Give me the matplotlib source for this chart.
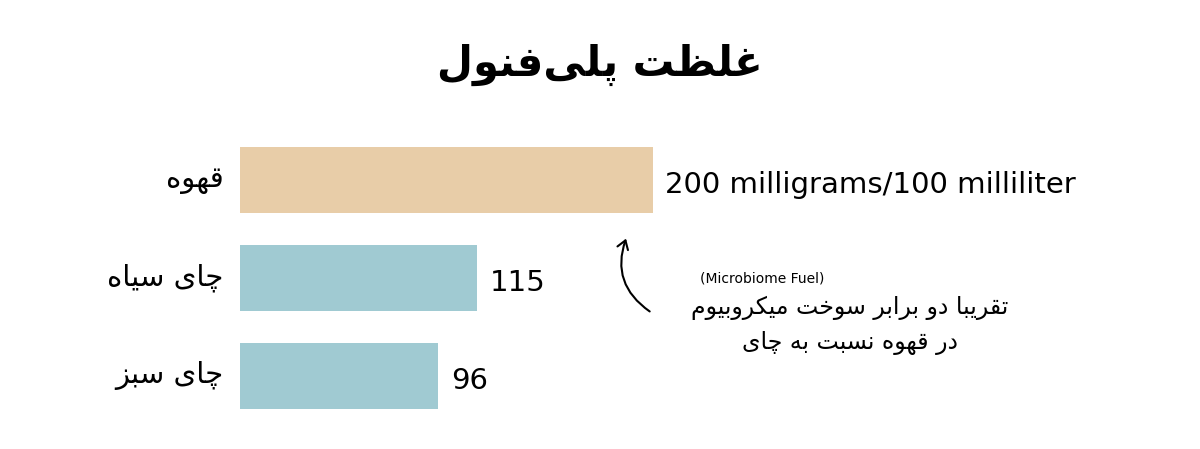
import matplotlib.pyplot as plt
from matplotlib.patches import FancyArrowPatch

# Minimal Persian shaping (matplotlib has no bidi / joining support)
FORMS = {
    'ا': (0xFE8D, 0xFE8E), 'د': (0xFEA9, 0xFEAA), 'ر': (0xFEAD, 0xFEAE),
    'ز': (0xFEAF, 0xFEB0), 'و': (0xFEED, 0xFEEE),
    'ب': (0xFE8F, 0xFE90, 0xFE91, 0xFE92), 'پ': (0xFB56, 0xFB57, 0xFB58, 0xFB59),
    'ت': (0xFE95, 0xFE96, 0xFE97, 0xFE98), 'خ': (0xFEA5, 0xFEA6, 0xFEA7, 0xFEA8),
    'چ': (0xFB7A, 0xFB7B, 0xFB7C, 0xFB7D), 'س': (0xFEB1, 0xFEB2, 0xFEB3, 0xFEB4),
    'ظ': (0xFEC5, 0xFEC6, 0xFEC7, 0xFEC8), 'غ': (0xFECD, 0xFECE, 0xFECF, 0xFED0),
    'ف': (0xFED1, 0xFED2, 0xFED3, 0xFED4), 'ق': (0xFED5, 0xFED6, 0xFED7, 0xFED8),
    'ک': (0xFB8E, 0xFB8F, 0xFB90, 0xFB91), 'ل': (0xFEDD, 0xFEDE, 0xFEDF, 0xFEE0),
    'م': (0xFEE1, 0xFEE2, 0xFEE3, 0xFEE4), 'ن': (0xFEE5, 0xFEE6, 0xFEE7, 0xFEE8),
    'ه': (0xFEE9, 0xFEEA, 0xFEEB, 0xFEEC), 'ی': (0xFBFC, 0xFBFD, 0xFBFE, 0xFBFF),
}


def fa(s):
    out = []
    for i, c in enumerate(s):
        if c not in FORMS:
            if c != '\u200c':
                out.append(c)
            continue
        prev = s[i - 1] if i > 0 else ''
        nxt = s[i + 1] if i + 1 < len(s) else ''
        jp = prev in FORMS and len(FORMS[prev]) == 4
        jn = len(FORMS[c]) == 4 and nxt in FORMS
        f = FORMS[c]
        if jp and jn:
            k = 3
        elif jp:
            k = 1
        elif jn:
            k = 2
        else:
            k = 0
        out.append(chr(f[k]))
    return ''.join(reversed(out))


title = 'غلظت پلی\u200cفنول'
categories = ['قهوه', 'چای سیاه', 'چای سبز']
values = [200, 115, 96]
value_labels = ['200 milligrams/100 milliliter', '115', '96']
colors = ['#E8CDA8', '#A0CAD2', '#A0CAD2']
note_en = '(Microbiome Fuel)'
note_fa = ['تقریبا دو برابر سوخت میکروبیوم', 'در قهوه نسبت به چای']

FAM = ['DejaVu Sans']
W, H = 1200, 449
fig = plt.figure(figsize=(12, 4.49), dpi=100)


def px(x, y):
    return x / W, 1 - y / H


ax = fig.add_axes([240 / W, 1 - 425 / H, 413 / W, 294 / H])
ypos = [0.5, 1.5, 2.5]
ax.barh(ypos, values, height=0.67, color=colors)
ax.set_xlim(0, 200)
ax.set_ylim(3, 0)
ax.axis('off')

for y, cat, v, lab in zip(ypos, categories, values, value_labels):
    ax.text(-8, y, fa(cat), ha='right', va='center', fontsize=21, family=FAM)
    ax.text(v + 6, y + 0.05, lab, ha='left', va='center', fontsize=21, family=FAM)

fig.text(*px(600, 65), fa(title), ha='center', va='center', fontsize=30,
         fontweight='bold', family=FAM)

fig.text(*px(762, 278), note_en, ha='center', va='center', fontsize=10, family=FAM)
fig.text(*px(850, 308), fa(note_fa[0]), ha='center', va='center', fontsize=17, family=FAM)
fig.text(*px(850, 343), fa(note_fa[1]), ha='center', va='center', fontsize=17, family=FAM)

arrow = FancyArrowPatch(px(652, 313), px(627, 236), transform=fig.transFigure,
                        connectionstyle='arc3,rad=-0.4', arrowstyle='->,head_length=6,head_width=4',
                        color='black', lw=1.5)
fig.patches.append(arrow)

fig.savefig('out.png', dpi=100)
